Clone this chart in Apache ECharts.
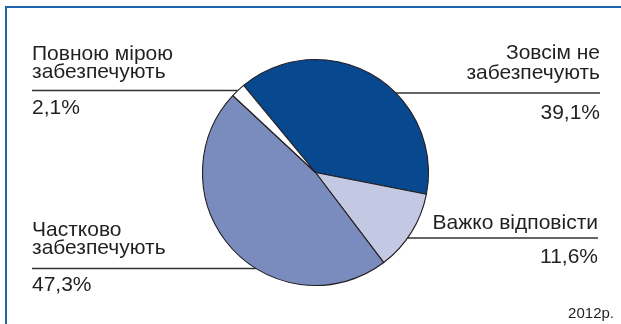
<!DOCTYPE html>
<html><head><meta charset="utf-8">
<script src="https://cdn.jsdelivr.net/npm/echarts@6/dist/echarts.min.js"></script>
<style>html,body{margin:0;padding:0;background:#fff}#c{width:621px;height:324px}</style>
</head><body><div id="c"></div>
<script>
// ---- data ----
const categories = ['Зовсім не\nзабезпечують', 'Важко відповісти', 'Частково\nзабезпечують', 'Повною мірою\nзабезпечують'];
const values = [39.1, 11.6, 47.3, 2.1];
const yearLabel = '2012р.';

// ---- styles / layout ----
const colors = ['#08488f', '#c3c8e3', '#7a8bbd', '#ffffff'];
const CX = 315.5, CY = 172.5, R = 113;
const labelPlacement = [
  {align: 'right', x: 600, top: 43, rule: 93, lh: 20},
  {align: 'right', x: 598, top: 215, rule: 238, lh: 16.7},
  {align: 'left', x: 32, top: 221, rule: 268.5, lh: 18.3},
  {align: 'left', x: 32, top: 45.5, rule: 90.5, lh: 18}
];
const fmt = v => v.toFixed(1).replace('.', ',') + '%';

const chart = echarts.init(document.getElementById('c'), null, {renderer: 'canvas'});
chart.setOption({
  animation: false,
  backgroundColor: '#fff',
  graphic: [
    {type: 'rect', shape: {x: 6, y: 7, width: 700, height: 400}, style: {fill: 'none', stroke: '#1f64b0', lineWidth: 2}, silent: true},
    {type: 'text', style: {text: yearLabel, x: 614, y: 321, align: 'right', verticalAlign: 'bottom', font: '15px "Liberation Sans Narrow", "Liberation Sans", Arial, sans-serif', fill: '#231f20'}, silent: true}
  ],
  series: [{
    type: 'pie',
    center: [CX, CY],
    radius: R,
    startAngle: 129.5,
    clockwise: true,
    silent: true,
    avoidLabelOverlap: false,
    itemStyle: {borderColor: '#231f20', borderWidth: 1.1},
    label: {
      show: true,
      position: 'outside',
      fontFamily: '"Liberation Sans", Arial, sans-serif',
      fontSize: 21,
      color: '#231f20',
      formatter: p => p.name + '\n\n' + fmt(p.value)
    },
    labelLine: {show: true, lineStyle: {color: '#333', width: 1.3}},
    labelLayout: function (params) {
      const L = labelPlacement[params.dataIndex];
      const dy = L.rule - CY;
      const dx = Math.sqrt(R * R - dy * dy);
      const edgeX = L.align === 'left' ? CX - dx : CX + dx;
      return {
        x: L.x, y: L.top, align: L.align, verticalAlign: 'top',
        labelLinePoints: [[edgeX, L.rule], [edgeX, L.rule], [L.x, L.rule]]
      };
    },
    data: categories.map((c, i) => ({
      name: c, value: values[i],
      itemStyle: {color: colors[i]},
      label: {lineHeight: labelPlacement[i].lh}
    }))
  }]
});
</script>
</body></html>
